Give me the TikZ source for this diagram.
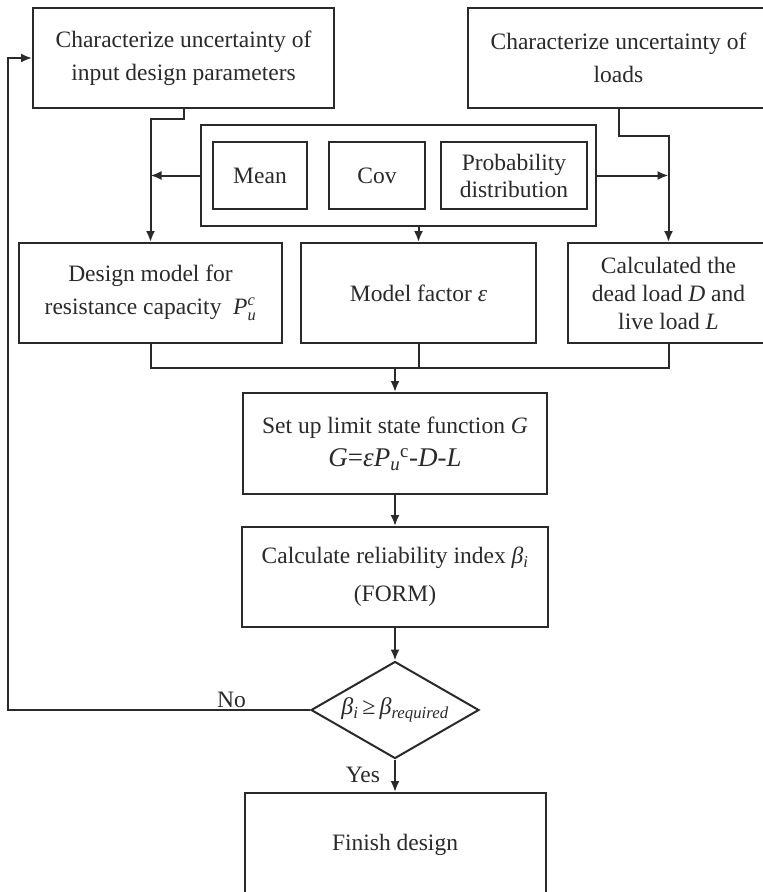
\documentclass[tikz,border=0pt]{standalone}
\usepackage{amsmath}
\usepackage{fontspec}
\setmainfont{Liberation Serif}
\usetikzlibrary{arrows.meta,shapes.geometric}
\definecolor{ink}{HTML}{2A2A2A}
\begin{document}
\begin{tikzpicture}[x=1pt,y=-1pt,
  box/.style={draw=ink, line width=2pt, inner sep=0pt, align=center, text=ink,
    font=\fontsize{23.5}{33}\selectfont},
  ln/.style={draw=ink, line width=2pt},
  arr/.style={ln, -{Latex[length=11pt,width=9pt]}},
  lbl/.style={text=ink, font=\fontsize{23.5}{28}\selectfont, inner sep=2pt}]
\clip (0,0) rectangle (763,892);
\fill[white] (0,0) rectangle (763,892);
% top boxes
\node[box, minimum width=301pt, minimum height=100pt] (A) at (183.5,58) {Characterize uncertainty of\\input design parameters};
\node[box, minimum width=301pt, minimum height=100pt] (B) at (618.5,58) {Characterize uncertainty of\\loads};
% group
\node[box, minimum width=395pt, minimum height=101pt] (G) at (398.5,175.5) {};
\node[box, minimum width=94pt, minimum height=67pt] (Mean) at (260,175.5) {Mean};
\node[box, minimum width=96pt, minimum height=67pt] (Cov) at (377,175.5) {Cov};
\node[box, minimum width=146pt, minimum height=67pt, font=\fontsize{23.5}{27}\selectfont] (Prob) at (514,175.5) {Probability\\distribution};
% middle row
\node[box, minimum width=263pt, minimum height=100pt] (D) at (150.5,293) {Design model for\\resistance capacity\ \ $\mathit{P}^{\mathit{c}}_{\mathit{u}}$};
\node[box, minimum width=235pt, minimum height=100pt] (M) at (418.5,293) {Model factor \textit{ε}};
\node[box, minimum width=201pt, minimum height=100pt, font=\fontsize{23.5}{28}\selectfont] (C) at (668.5,293) {Calculated the\\dead load \textit{D} and\\live load \textit{L}};
% lower chain
\node[box, minimum width=304pt, minimum height=101pt] (S) at (395,443.5) {Set up limit state function \textit{G}\\{\fontsize{27}{33}\selectfont\textit{G}=\textit{εP}\textsubscript{\textit{u}}\textsuperscript{c}-\textit{D}-\textit{L}}};
\node[box, minimum width=306pt, minimum height=100pt, font=\fontsize{23.5}{38}\selectfont] (R) at (395,577) {Calculate reliability index \textit{β}\textsubscript{\textit{i}}\\(FORM)};
\node[box, shape=diamond, minimum width=168pt, minimum height=97pt] (Q) at (395,710) {};
\node[text=ink, inner sep=0pt, font=\fontsize{24}{26}\selectfont] (Qt) at (Q.center) {\textit{β}\textsubscript{\textit{i}}\,≥\,\textit{β}\textsubscript{\textit{required}}};
\node[box, minimum width=301pt, minimum height=104pt] (F) at (395,845) {Finish design};
% connectors
\draw[arr] (A.south) -- ++(0,10) -| (D.north);
\draw[arr] (B.south) -- ++(0,27) -| (C.north);
\draw[arr] (G.west) -- (G.west -| D.north);
\draw[arr] (G.east) -- (G.east -| C.north);
\draw[arr] (M.north |- G.south) -- (M.north);
\path (D.south) ++(0,24) coordinate (hl);
\draw[ln] (D.south) -- (hl) -| (C.south);
\draw[ln] (M.south) -- (M.south |- hl);
\draw[arr] (S.north |- hl) -- (S.north);
\draw[arr] (S.south) -- (R.north);
\draw[arr] (R.south) -- (Q.north);
\draw[arr] (Q.south) -- node[lbl, left, xshift=-12pt, yshift=1pt] {Yes} (F.north);
\coordinate (fb) at (8,0);
\draw[arr] (Q.west) -- node[lbl, above, pos=0.26, yshift=-1pt] {No} (Q.west -| fb) |- (A.west);
\end{tikzpicture}
\end{document}
